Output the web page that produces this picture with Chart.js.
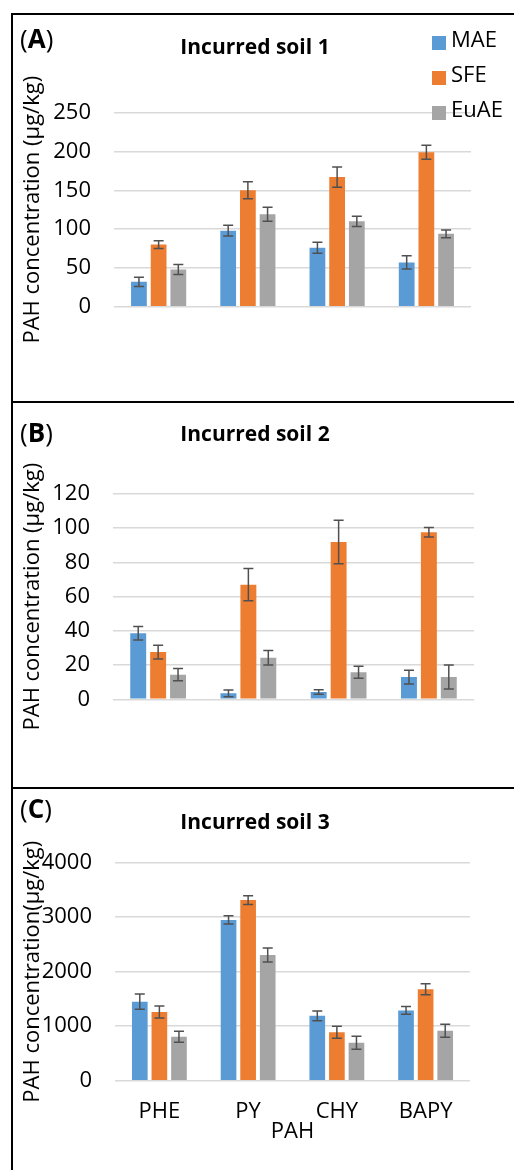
<!DOCTYPE html>
<html>
<head>
<meta charset="utf-8">
<script src="https://cdn.jsdelivr.net/npm/chart.js@4.4.1/dist/chart.umd.min.js"></script>
<style>
    body { margin: 0; width: 514px; height: 1170px; overflow: hidden; background: #fff; position: relative; font-family: 'Open Sans', sans-serif; color: #000; }
    .line { position: absolute; background: #000; }
    canvas { position: absolute; left: 0; }
    .tag { position: absolute; left: 20px; font-size: 26px; line-height: 34px; }
    .ttl { position: absolute; left: 0; width: 510px; text-align: center; font-size: 21px; font-weight: 700; line-height: 28px; }
    #legend { position: absolute; left: 432px; top: 21px; font-size: 22px; }
    #legend div { position: relative; height: 35px; line-height: 35px; padding-left: 19px; white-space: nowrap; }
    #legend span { position: absolute; left: 0; top: 15px; width: 14px; height: 14px; }
</style>
</head>
<body>
<div class="line" style="left:11px;top:13px;width:2px;height:1157px"></div>
<div class="line" style="left:11px;top:13px;width:503px;height:2px"></div>
<div class="line" style="left:11px;top:401px;width:503px;height:2px"></div>
<div class="line" style="left:11px;top:787px;width:503px;height:2px"></div>

<canvas id="chartA" width="514" height="386" style="top:15px"></canvas>
<canvas id="chartB" width="514" height="384" style="top:403px"></canvas>
<canvas id="chartC" width="514" height="381" style="top:789px"></canvas>

<div class="tag" style="top:21px">(<b>A</b>)</div>
<div class="tag" style="top:415px">(<b>B</b>)</div>
<div class="tag" style="top:791px">(<b>C</b>)</div>
<div class="ttl" style="top:32px">Incurred soil 1</div>
<div class="ttl" style="top:419px">Incurred soil 2</div>
<div class="ttl" style="top:807px">Incurred soil 3</div>
<div id="legend"></div>

<script>
const categories = ['PHE', 'PY', 'CHY', 'BAPY'];
const seriesNames = ['MAE', 'SFE', 'EuAE'];
const seriesColors = ['#5B9BD5', '#ED7D31', '#A5A5A5'];

// Incurred soil 1
const soil1MAE = [32, 98, 76, 57];
const soil1MAEErr = [6, 7, 7, 8.5];
const soil1SFE = [80, 150, 167, 199];
const soil1SFEErr = [5, 11, 13, 9];
const soil1EuAE = [48, 119, 110, 94];
const soil1EuAEErr = [6.5, 9, 6.5, 5];

// Incurred soil 2
const soil2MAE = [38.6, 3.5, 4.3, 13];
const soil2MAEErr = [4, 2, 1.3, 4];
const soil2SFE = [27.6, 67, 92, 97.6];
const soil2SFEErr = [4, 9.4, 12.7, 2.8];
const soil2EuAE = [14.4, 24.3, 15.8, 13];
const soil2EuAEErr = [3.6, 4.2, 3.5, 7];

// Incurred soil 3
const soil3MAE = [1450, 2950, 1190, 1290];
const soil3MAEErr = [140, 75, 90, 70];
const soil3SFE = [1260, 3315, 888, 1677];
const soil3SFEErr = [110, 80, 110, 100];
const soil3EuAE = [807, 2306, 697, 917];
const soil3EuAEErr = [100, 130, 120, 120];

Chart.defaults.font.family = "'Open Sans', sans-serif";
Chart.defaults.color = '#000';

const errorBarPlugin = {
    id: 'errorBars',
    afterDatasetsDraw(chart) {
        const ctx = chart.ctx;
        const yScale = chart.scales.y;
        ctx.save();
        ctx.strokeStyle = '#505050';
        ctx.lineWidth = 1.5;
        chart.data.datasets.forEach((ds, i) => {
            chart.getDatasetMeta(i).data.forEach((bar, j) => {
                const top = yScale.getPixelForValue(ds.data[j] + ds.errors[j]);
                const bot = yScale.getPixelForValue(ds.data[j] - ds.errors[j]);
                ctx.beginPath();
                ctx.moveTo(bar.x, top); ctx.lineTo(bar.x, bot);
                ctx.moveTo(bar.x - 5, top); ctx.lineTo(bar.x + 5, top);
                ctx.moveTo(bar.x - 5, bot); ctx.lineTo(bar.x + 5, bot);
                ctx.stroke();
            });
        });
        ctx.restore();
    }
};

function buildDatasets(values, errors) {
    return seriesNames.map((name, i) => ({
        label: name,
        data: values[i],
        errors: errors[i],
        backgroundColor: seriesColors[i],
        categoryPercentage: 0.662,
        barPercentage: 0.8
    }));
}

function makeChart(id, values, errors, opts) {
    const xScale = opts.showX ? {
        ticks: { font: { size: 22 }, padding: 18 },
        grid: { display: false, drawTicks: false },
        border: { display: false },
        title: { display: true, text: 'PAH', font: { size: 22 }, padding: 0 },
        afterFit: (scale) => { scale.height = 64; }
    } : { display: false };

    return new Chart(document.getElementById(id), {
        type: 'bar',
        data: { labels: categories, datasets: buildDatasets(values, errors) },
        options: {
            responsive: false,
            devicePixelRatio: 1,
            animation: false,
            layout: { padding: opts.padding },
            plugins: { legend: { display: false }, tooltip: { enabled: false } },
            scales: {
                x: xScale,
                y: {
                    min: 0,
                    max: opts.max,
                    ticks: { stepSize: opts.step, font: { size: 22 }, padding: 23, callback: (v) => String(v) },
                    grid: { color: '#D9D9D9', lineWidth: 1.5, drawTicks: false },
                    border: { display: false },
                    title: { display: true, text: opts.yTitle, font: { size: 22 }, padding: { top: 20, bottom: 0 } },
                    afterFit: (scale) => { scale.width = opts.axisWidth; }
                }
            }
        },
        plugins: [errorBarPlugin]
    });
}

const chartA = makeChart('chartA',
    [soil1MAE, soil1SFE, soil1EuAE], [soil1MAEErr, soil1SFEErr, soil1EuAEErr],
    { max: 250, step: 50, yTitle: 'PAH concentration (µg/kg)', axisWidth: 114,
      padding: { top: 97.7, bottom: 94.3, left: 0, right: 43 } });

makeChart('chartB',
    [soil2MAE, soil2SFE, soil2EuAE], [soil2MAEErr, soil2SFEErr, soil2EuAEErr],
    { max: 120, step: 20, yTitle: 'PAH concentration (µg/kg)', axisWidth: 113,
      padding: { top: 91, bottom: 87.7, left: 0, right: 40 } });

makeChart('chartC',
    [soil3MAE, soil3SFE, soil3EuAE], [soil3MAEErr, soil3SFEErr, soil3EuAEErr],
    { max: 4000, step: 1000, yTitle: 'PAH concentration(µg/kg)', axisWidth: 115, showX: true,
      padding: { top: 73.7, bottom: 25.3, left: 0, right: 44 } });

// legend built from the first chart's datasets
const legend = document.getElementById('legend');
chartA.data.datasets.forEach(ds => {
    const row = document.createElement('div');
    row.innerHTML = `<span style="background:${ds.backgroundColor}"></span>${ds.label}`;
    legend.appendChild(row);
});
</script>
</body>
</html>
